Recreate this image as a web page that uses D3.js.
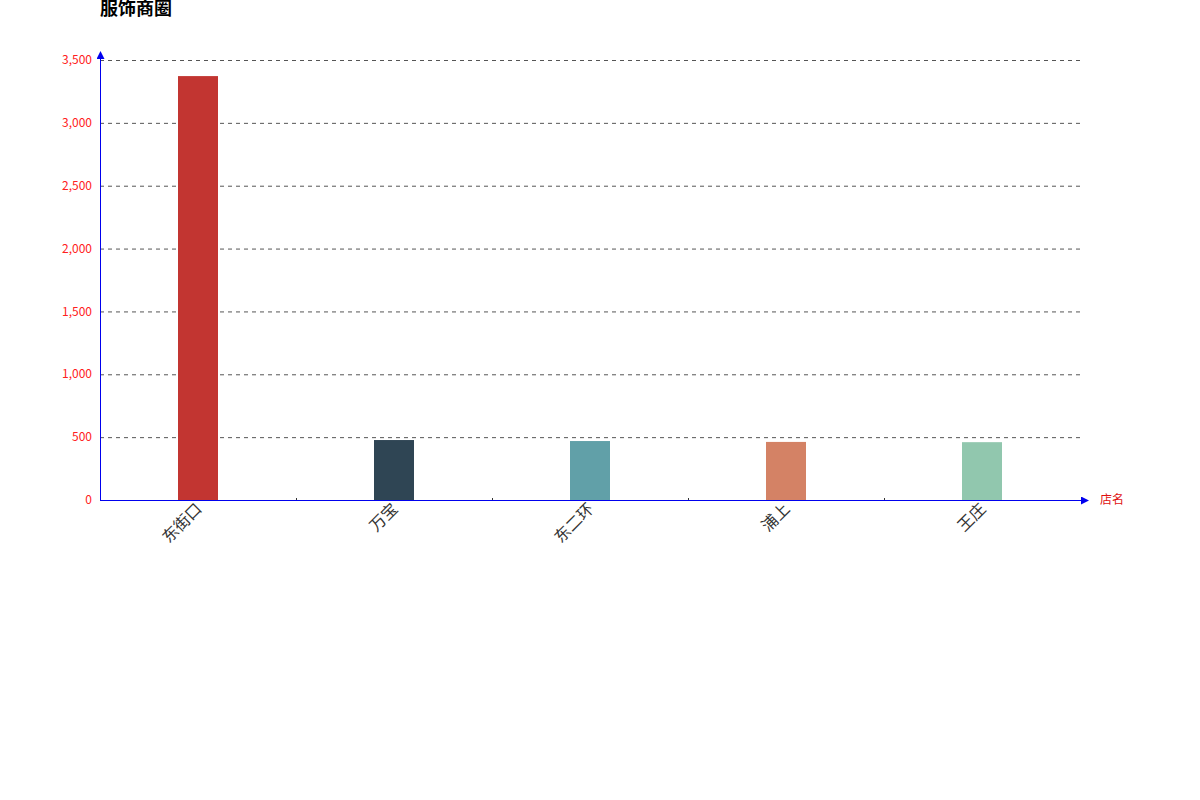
<!DOCTYPE html>
<html><head><meta charset="utf-8">
<script src="https://cdn.jsdelivr.net/npm/d3@7/dist/d3.min.js"></script>
<style>body{margin:0;background:#fff}svg{display:block;font-family:"Microsoft YaHei","Noto Sans CJK SC",sans-serif}</style>
</head><body><svg id="c" width="1200" height="800"></svg>
<script>
const categories = ["东街口","万宝","东二环","浦上","王庄"];
const values = [3372, 477, 469, 462, 460];
const colors = ["#c23531","#2f4554","#61a0a8","#d48265","#91c7ae"];
const yTicks = [0,500,1000,1500,2000,2500,3000,3500];
const title = "服饰商圈";
const xName = "店名";

const svg = d3.select("#c");
const m = {l:100, r:1080, t:60, b:500};
const x = d3.scaleBand().domain(categories).range([m.l, m.r]);
const y = d3.scaleLinear().domain([0,3500]).range([m.b, m.t]);

svg.append("defs").append("marker").attr("id","arr").attr("viewBox","0 0 10 10")
  .attr("refX",5).attr("refY",5).attr("markerWidth",8).attr("markerHeight",8)
  .attr("orient","auto").attr("markerUnits","userSpaceOnUse")
  .append("path").attr("d","M0,0L10,5L0,10Z").attr("fill","#0000ee");

// grid
svg.append("g").selectAll("line").data(yTicks.filter(d=>d>0)).join("line")
  .attr("x1",m.l).attr("x2",m.r).attr("y1",d=>y(d)+0.5).attr("y2",d=>y(d)+0.5)
  .attr("stroke","#555").attr("stroke-dasharray","4,4").attr("stroke-width",1);

// y labels
svg.append("g").selectAll("text").data(yTicks).join("text")
  .attr("x",m.l-8).attr("y",d=>y(d)).attr("dy","0.35em").attr("text-anchor","end")
  .attr("font-size",12).attr("fill","#ff2020").text(d=>d3.format(",")(d));

// bars
svg.append("g").selectAll("rect").data(values).join("rect")
  .attr("x",(d,i)=>x(categories[i])+x.bandwidth()/2-20).attr("width",40)
  .attr("y",d=>y(d)).attr("height",d=>y(0)-y(d)).attr("fill",(d,i)=>colors[i]);

// x ticks
svg.append("g").selectAll("line").data(categories.slice(1)).join("line")
  .attr("x1",d=>x(d)+0.5).attr("x2",d=>x(d)+0.5).attr("y1",m.b).attr("y2",m.b-2)
  .attr("stroke","#333");

// axes
svg.append("line").attr("x1",m.l+0.5).attr("x2",m.l+0.5).attr("y1",m.b).attr("y2",m.t-5)
  .attr("stroke","#0000ee").attr("marker-end","url(#arr)");
svg.append("line").attr("x1",m.l).attr("x2",m.r+5).attr("y1",m.b+0.5).attr("y2",m.b+0.5)
  .attr("stroke","#0000ee").attr("marker-end","url(#arr)");

// x labels
svg.append("g").selectAll("text").data(categories).join("text")
  .attr("transform",d=>`translate(${x(d)+x.bandwidth()/2-3},${m.b+2}) rotate(-45)`)
  .attr("text-anchor","end").attr("dy","0.7em").attr("font-size",16).attr("fill","#333").text(d=>d);

svg.append("text").attr("x",1100).attr("y",m.b).attr("dy","0.35em").attr("font-size",12)
  .attr("fill","#e01010").text(xName);

svg.append("text").attr("x",100).attr("y",15).attr("font-size",18).attr("font-weight","bold")
  .attr("fill","#000").text(title);
</script></body></html>
